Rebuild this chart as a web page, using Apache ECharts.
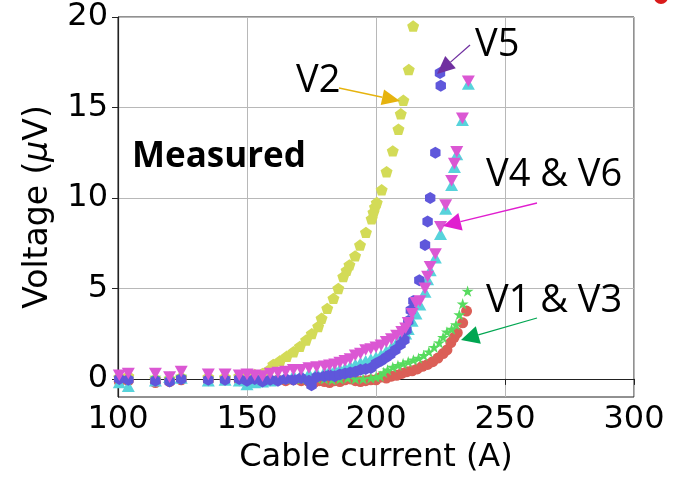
<!DOCTYPE html>
<html>
<head>
<meta charset="utf-8">
<script src="https://cdn.jsdelivr.net/npm/echarts@6/dist/echarts.min.js"></script>
<style>
html,body{margin:0;padding:0;background:#fff;}
#chart{width:689px;height:479px;}
</style>
</head>
<body>
<div id="chart"></div>
<script>
// ---- data ----
const xTicks = [100, 150, 200, 250, 300];
const yTicks = [0, 5, 10, 15, 20];

const v1Current = [100.5,104,114.5,120,124.5,135,141.5,147,150,153,156,159,162,165,168,171,174,176,178,180,182,184,186,188,190,192,194,196,198,200,202,204,206,208,210,212,214,216,218,220,222,224,226,227.5,229,230.3,231.5,233.6,235.1];
const v1Voltage = [-0.15,-0.1,-0.2,-0.15,-0.05,-0.1,-0.05,-0.1,-0.05,-0.1,-0.15,-0.1,-0.05,-0.1,-0.05,-0.1,-0.15,-0.2,-0.1,-0.15,-0.2,-0.1,-0.15,-0.05,0,-0.1,-0.15,-0.1,-0.05,-0.05,0.1,0.05,0.15,0.2,0.3,0.4,0.45,0.55,0.7,0.8,0.95,1.15,1.4,1.6,2.0,2.3,2.55,3.1,3.75];

const v2Current = [100.5,104,114.5,120,124.5,135,141.5,147,150,153,156,158.5,160.2,162.8,165.4,168,170.5,172.9,175.1,177.6,178.9,181.1,183.5,185.4,187.3,188.6,189.7,191.9,193.8,196.1,198.3,199,199.6,200.3,202.2,204.1,206.5,208.7,209.6,210.6,212.7,214.4];
const v2Voltage = [0.1,0.15,0,0,0.1,0.1,0.1,0.15,0.2,0.25,0.3,0.5,0.8,1.0,1.25,1.5,1.8,2.15,2.5,2.9,3.35,3.9,4.45,5.0,5.65,6.0,6.3,6.8,7.4,8.1,8.85,9.2,9.5,9.75,10.45,11.45,12.6,13.8,14.65,15.4,17.1,19.5];

const v3Current = [100.5,104,114.5,120,124.5,135,141.5,147,150,153,156,159,162,165,168,171,174,177,180,183,186,189,192,195,198,200,201.6,203,204.5,206.5,208.5,210.5,212.5,214.5,216.5,218.5,220.5,222.5,224.5,226,227.5,229.3,231,232.3,233.6,235.5];
const v3Voltage = [0.05,0,0.1,0.05,0.15,0,0.05,0,0.05,0,0.05,0,0.05,0,0.05,0,0,0.05,0,-0.05,0,0.05,0,0,0.05,0.1,0.15,0.35,0.5,0.65,0.75,0.85,0.95,1.05,1.15,1.3,1.5,1.75,2.0,2.3,2.6,2.75,3.0,3.55,4.15,4.85];

const v46Current = [100.5,104,114.5,120,124.5,135,141.5,147,150,153,156,159,162,165,168,171,174,177,180,182,184,186,188,190,192,194,196,198,200,202,204,206,208,210,211.5,212.5,214,215.5,217,219,220,221,223,225,227,229.3,230.4,231.3,233.5,235.8];
const v4Voltage = [-0.2,-0.4,-0.1,0.1,0.05,-0.1,-0.05,-0.1,-0.3,-0.2,-0.15,-0.1,0.1,0.15,0.2,0.25,0.3,0.35,0.4,0.45,0.5,0.55,0.6,0.7,0.8,0.9,1.0,1.1,1.2,1.35,1.55,1.75,2.0,2.3,2.5,2.75,3.2,3.6,4.1,4.8,5.5,6.0,6.7,8.0,9.4,10.7,11.7,12.4,14.3,16.3];
const v6Voltage = [0.2,0.3,0.3,0.1,0.4,0.25,0.25,0.2,0.25,0.2,0.15,0.3,0.35,0.4,0.5,0.5,0.6,0.65,0.7,0.75,0.8,0.9,1.0,1.1,1.3,1.4,1.6,1.65,1.75,1.85,2.05,2.2,2.4,2.6,2.8,3.1,3.6,4.2,4.3,5.0,5.65,6.2,6.9,8.4,9.6,10.95,11.9,12.55,14.4,16.45];

const v5Current = [100.5,104,114.5,120,124.5,135,141.5,147,150,153,156,159,162,165,168,171,174,175,177,180,182,184,186,188,190,192,194,196,198,200,202,204,205.5,207.5,209.5,211,211.8,212.5,213.5,214.5,216.8,219,220,221,223,225.1,224.8];
const v5Voltage = [0,-0.05,-0.1,-0.15,0,-0.05,-0.05,0,-0.1,0,-0.15,-0.05,-0.1,0,-0.05,0.05,-0.1,-0.35,0.1,0.15,0.2,0.15,0.25,0.3,0.35,0.4,0.5,0.55,0.6,0.85,1.0,1.2,1.35,1.6,1.9,2.15,2.7,3.2,3.8,4.3,5.45,7.4,8.7,10.0,12.5,16.2,16.9];

// ---- symbols ----
const PENTAGON = 'path://M0,-1 L0.951,-0.309 L0.588,0.809 L-0.588,0.809 L-0.951,-0.309 Z';
const HEXAGON = 'path://M0,-1 L0.866,-0.5 L0.866,0.5 L0,1 L-0.866,0.5 L-0.866,-0.5 Z';
const STAR = 'path://M0,-1 L0.2233,-0.3074 L0.9511,-0.309 L0.3614,0.1174 L0.5878,0.809 L0,0.38 L-0.5878,0.809 L-0.3614,0.1174 L-0.9511,-0.309 L-0.2233,-0.3074 Z';
const TRI_UP = 'path://M0,-1 L0.95,0.7 L-0.95,0.7 Z';
const TRI_DOWN = 'path://M0,1 L0.95,-0.7 L-0.95,-0.7 Z';

function zip(a, b) { return a.map((x, i) => [x, b[i]]); }

function scatter(name, cur, vol, color, symbol, size) {
  return {
    name: name, type: 'scatter', data: zip(cur, vol),
    symbol: symbol, symbolSize: size, symbolKeepAspect: true,
    itemStyle: { color: color, opacity: 1 },
    emphasis: { disabled: true }, animation: false
  };
}

function arrow(x1, y1, x2, y2, color, headLen, headW) {
  const dx = x2 - x1, dy = y2 - y1, L = Math.hypot(dx, dy);
  const ux = dx / L, uy = dy / L, px = -uy, py = ux;
  const bx = x2 - ux * headLen, by = y2 - uy * headLen;
  return [
    { type: 'line', shape: { x1: x1, y1: y1, x2: bx, y2: by }, style: { stroke: color, lineWidth: 1.3 }, z: 100 },
    { type: 'polygon', shape: { points: [[x2, y2], [bx + px * headW, by + py * headW], [bx - px * headW, by - py * headW]] }, style: { fill: color }, z: 100 }
  ];
}

function label(text, x, y, size, weight) {
  return { type: 'text', x: x, y: y, z: 100,
    style: { text: text, font: (weight || 'normal') + ' ' + size + 'px "Open Sans"', fill: '#000', verticalAlign: 'middle', align: 'left' } };
}

const chart = echarts.init(document.getElementById('chart'), null, { renderer: 'canvas' });
const axisFont = 'DejaVu Sans';

chart.setOption({
  animation: false,
  backgroundColor: '#fff',
  grid: { left: 118, right: 55, top: 17, bottom: 80, show: true, borderColor: '#222', borderWidth: 1, backgroundColor: 'transparent' },
  xAxis: {
    type: 'value', min: 100, max: 300, interval: 50,
    name: 'Cable current (A)', nameLocation: 'middle', nameGap: 45,
    nameTextStyle: { fontFamily: axisFont, fontSize: 32, color: '#000' },
    axisLine: { show: true, lineStyle: { color: '#222', width: 1.2 } },
    axisTick: { show: true, length: 6, lineStyle: { color: '#222' } },
    axisLabel: { fontFamily: axisFont, fontSize: 32, color: '#000', margin: 7,
      customValues: xTicks },
    splitLine: { show: true, lineStyle: { color: '#b8b8b8', width: 1 } }
  },
  yAxis: {
    type: 'value', min: -1, max: 20,
    name: 'Voltage ({i|μ}V)', nameLocation: 'middle', nameGap: 63, nameRotate: 90,
    nameTextStyle: { fontFamily: axisFont, fontSize: 33, color: '#000',
      rich: { i: { fontFamily: axisFont, fontSize: 33, fontStyle: 'italic', color: '#000' } } },
    axisLine: { show: true, lineStyle: { color: '#222', width: 1.2 } },
    axisTick: { show: true, length: 6, lineStyle: { color: '#222' }, customValues: yTicks },
    axisLabel: { fontFamily: axisFont, fontSize: 32, color: '#000', margin: 10, customValues: yTicks },
    splitLine: { show: true, lineStyle: { color: '#b8b8b8', width: 1 } }
  },
  series: [
    scatter('V1', v1Current, v1Voltage, '#db5f57', 'circle', 11),
    scatter('V2', v2Current, v2Voltage, '#d3db57', PENTAGON, 12),
    scatter('V3', v3Current, v3Voltage, '#57db5f', STAR, 12),
    scatter('V4', v46Current, v4Voltage, '#57d3db', TRI_UP, 13),
    scatter('V5', v5Current, v5Voltage, '#5f57db', HEXAGON, 12),
    scatter('V6', v46Current, v6Voltage, '#db57d3', TRI_DOWN, 13)
  ],
  graphic: [].concat(
    arrow(339, 88, 400, 101, '#e6b30e', 18, 8),
    arrow(470, 45, 437, 74, '#7030a0', 18, 8),
    arrow(537, 203, 443, 226, '#e01ecf', 18, 9),
    arrow(537, 318, 461, 340, '#00a651', 18, 9),
    [
      label('V2', 296, 81, 38),
      label('V5', 475, 45, 38),
      label('V4 & V6', 486, 175, 38),
      label('V1 & V3', 486, 301, 38),
      label('Measured', 132, 157, 35, 'bold'),
      { type: 'circle', shape: { cx: 661, cy: -3, r: 7 }, style: { fill: '#d91a1a' }, z: 100 }
    ]
  )
});
</script>
</body>
</html>
